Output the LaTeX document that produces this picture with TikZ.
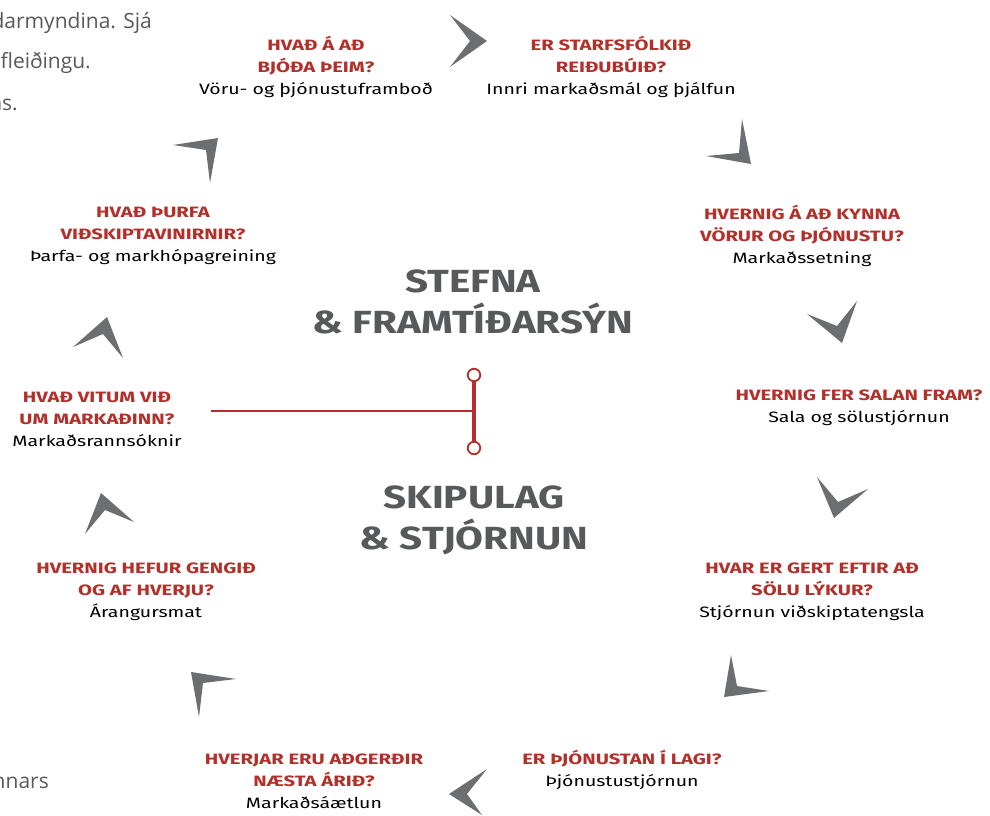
\documentclass[tikz,border=0pt]{standalone}
\usepackage{fontspec}
\setmainfont{Fira Sans}
\newfontfamily\fragfont{Open Sans}
\newfontfamily\qfont[FakeStretch=1.35]{Fira Sans}
\newfontfamily\sfont[FakeStretch=1.3]{Fira Sans}
\newfontfamily\tfont[FakeStretch=1.26]{Fira Sans}
\definecolor{qred}{HTML}{B3302A}
\definecolor{agray}{HTML}{6D6E71}
\definecolor{tgray}{HTML}{58595B}
\definecolor{fgray}{HTML}{59595B}
\newcommand{\qthree}[3]{\textcolor{qred}{\qfont\bfseries #1}\\\textcolor{qred}{\qfont\bfseries #2}\\{\sfont #3}}
\newcommand{\qtwo}[2]{\textcolor{qred}{\qfont\bfseries #1}\\{\sfont #2}}
\tikzset{
  lab/.style={align=center, inner sep=0pt, font=\fontsize{15}{22}\selectfont, text=black},
  ttl/.style={align=center, inner sep=0pt, text=tgray, font=\tfont\fontsize{32}{41}\selectfont\bfseries},
  frag/.style={anchor=east, inner sep=0pt, text=fgray, font=\fragfont\fontsize{21}{24}\selectfont},
  chev/.style={fill=agray},
  ring/.style={circle, draw=qred, line width=1.8pt, fill=white, minimum size=12.5pt, inner sep=0pt}
}
\begin{document}
\begin{tikzpicture}[x=1pt,y=-1pt]
\useasboundingbox (0,0) rectangle (990,816);
% cut-off text fragments at the edges
\node[frag] (f1) at (152,23) {heildarmyndina. Sjá};
\node[frag] (f2) at (91,63) {afleiðingu.};
\node[frag] (f3) at (18,103) {ins.};
\node[frag] (f4) at (49,783) {annars};
% labels
\node[lab] (l1) at (316,67) {\qthree{HVAÐ Á AÐ}{BJÓÐA ÞEIM?}{Vöru- og þjónustuframboð}};
\node[lab] (l2) at (611,67) {\qthree{ER STARFSFÓLKIÐ}{REIÐUBÚIÐ?}{Innri markaðsmál og þjálfun}};
\node[lab] (l3) at (153,236) {\qthree{HVAÐ ÞURFA}{VIÐSKIPTAVINIRNIR?}{Þarfa- og markhópagreining}};
\node[lab] (l4) at (802,236) {\qthree{HVERNIG Á AÐ KYNNA}{VÖRUR OG ÞJÓNUSTU?}{Markaðssetning}};
\node[lab] (l5) at (97,419) {\qthree{HVAÐ VITUM VIÐ}{UM MARKAÐINN?}{Markaðsrannsóknir}};
\node[lab] (l6) at (859,408) {\qtwo{HVERNIG FER SALAN FRAM?}{Sala og sölustjórnun}};
\node[lab] (l7) at (146,592) {\qthree{HVERNIG HEFUR GENGIÐ}{OG AF HVERJU?}{Árangursmat}};
\node[lab] (l8) at (812,592) {\qthree{HVAR ER GERT EFTIR AÐ}{SÖLU LÝKUR?}{Stjórnun viðskiptatengsla}};
\node[lab] (l9) at (314,781) {\qthree{HVERJAR ERU AÐGERÐIR}{NÆSTA ÁRIÐ?}{Markaðsáætlun}};
\node[lab] (l10) at (622,770) {\qtwo{ER ÞJÓNUSTAN Í LAGI?}{Þjónustustjórnun}};
% titles
\node[ttl] (t1) at (473,302) {STEFNA\\\&~FRAMTÍÐARSÝN};
\node[ttl] (t2) at (474,520) {SKIPULAG\\\&~STJÓRNUN};
% chevrons (clockwise)
\fill[chev] (450,15) -- (487,41) -- (450,67) -- (470,41) -- cycle;
\fill[chev] (742,119) -- (751,164) -- (706,156) -- (739,153) -- cycle;
\fill[chev] (807,314) -- (842,343) -- (857,301) -- (837,326) -- cycle;
\fill[chev] (817,477) -- (834,518) -- (868,489) -- (838,502) -- cycle;
\fill[chev] (731,655) -- (724,697) -- (769,691) -- (737,686) -- cycle;
\fill[chev] (487,769) -- (449,794) -- (482,815) -- (467,794) -- cycle;
\fill[chev] (236,679) -- (191,672) -- (199,717) -- (203,683) -- cycle;
\fill[chev] (85,534) -- (101,493) -- (134,522) -- (105,510) -- cycle;
\fill[chev] (73,347) -- (107,317) -- (123,358) -- (103,334) -- cycle;
\fill[chev] (173,145) -- (218,138) -- (210,183) -- (206,150) -- cycle;
% central red connector
\coordinate (hl) at (211,411);
\coordinate (hj) at (474,411);
\node[ring] (ct) at (474,375) {};
\node[ring] (cb) at (474,448) {};
\draw[qred, line width=2pt] (hl) -- (hj);
\draw[qred, line width=3.3pt] (ct) -- (cb);
\end{tikzpicture}
\end{document}
